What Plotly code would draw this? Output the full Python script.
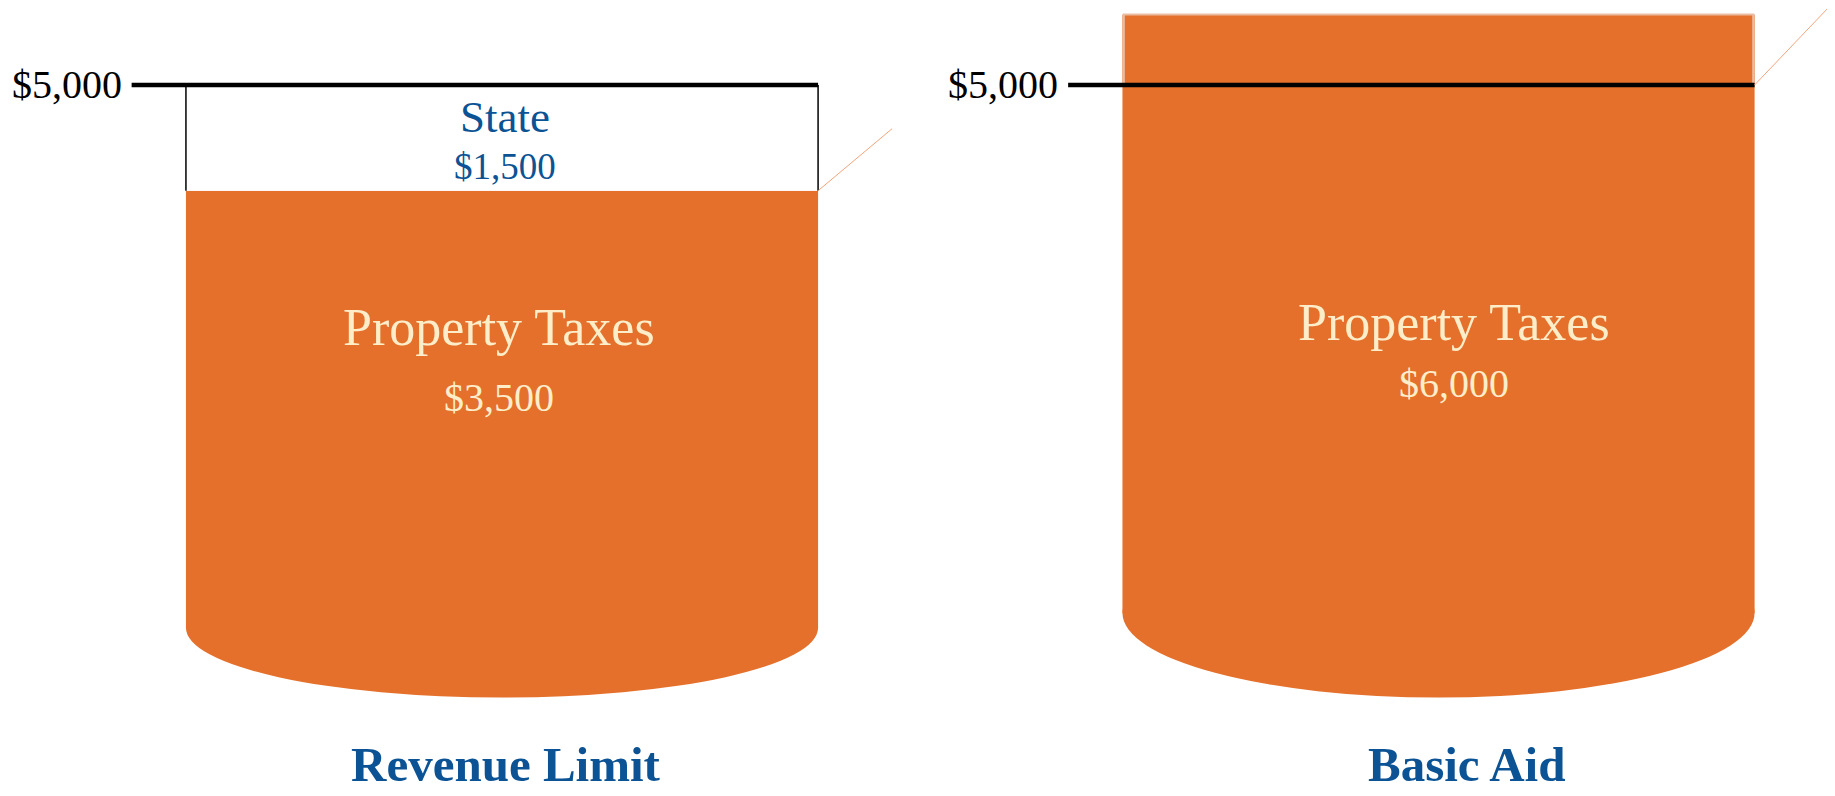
import plotly.graph_objects as go

# ---- data ----
categories = ["Revenue Limit", "Basic Aid"]
property_taxes = [3500, 6000]
state_aid = [1500, 0]
revenue_limit = 5000
pt_label = "Property Taxes"
state_label = "State"

# ---- style ----
ORANGE = "#E4702B"
BLUE = "#0B5394"
CREAM = "#FDEDC9"
EDGE = "#EBBBA2"
FONT = "Liberation Serif"
xs = [0, 1]
bar_w = 0.675
floors = [-2700, -2490]          # where the drum's straight sides end
depths = [990, 1200]             # half-height of the rounded drum bottom
pt_label_y = [1560, 1630]
pt_value_y = [570, 760]
label_shift = [-3, 15]
title_shift = [4, 28]
diag_rise = [880, 1100]

fig = go.Figure()

# cylinder body (property taxes)
fig.add_trace(go.Bar(
    x=xs, y=[p - f for p, f in zip(property_taxes, floors)], base=floors,
    width=bar_w, marker=dict(color=ORANGE, line=dict(width=0)),
    hoverinfo="skip"))

# portion above the revenue limit, with its light edge
for x, p in zip(xs, property_taxes):
    if p > revenue_limit:
        fig.add_trace(go.Bar(x=[x], y=[p - revenue_limit], base=[revenue_limit],
                             width=bar_w - 0.003,
                             marker=dict(color=ORANGE, line=dict(color=EDGE, width=2)),
                             hoverinfo="skip"))

# rounded bottoms
for x, f, d in zip(xs, floors, depths):
    fig.add_shape(type="circle", xref="x", yref="y",
                  x0=x - bar_w / 2, x1=x + bar_w / 2, y0=f - d, y1=f + d,
                  fillcolor=ORANGE, line=dict(width=0), layer="below")

# state segment
for x, p, s in zip(xs, property_taxes, state_aid):
    if s > 0:
        fig.add_trace(go.Bar(x=[x], y=[s], base=[p], width=bar_w,
                             marker=dict(color="white", line=dict(width=0)),
                             hoverinfo="skip"))
        for side in (-1, 1):
            fig.add_trace(go.Scatter(
                x=[x + side * bar_w / 2] * 2, y=[p, p + s], mode="lines",
                line=dict(color="black", width=1.5), hoverinfo="skip"))
        mid = p + s / 2
        fig.add_annotation(x=x, y=mid, xshift=3, yshift=21, text=state_label,
                           showarrow=False, borderpad=0,
                           font=dict(family=FONT, size=45, color=BLUE))
        fig.add_annotation(x=x, y=mid, xshift=3, yshift=-29, text=f"${s:,}",
                           showarrow=False, borderpad=0,
                           font=dict(family=FONT, size=37, color=BLUE))

# decorative thin diagonal strokes at the top right corner
for x, p, s, r in zip(xs, property_taxes, state_aid, diag_rise):
    y0 = p if s > 0 else revenue_limit
    fig.add_shape(type="line", xref="x", yref="y",
                  x0=x + bar_w / 2, y0=y0, x1=x + bar_w / 2 + 0.079, y1=y0 + r,
                  line=dict(color="#F2A57C", width=1))

# $5,000 threshold lines and labels
for x in xs:
    x_start = x - bar_w / 2 - 0.058
    fig.add_trace(go.Scatter(x=[x_start, x + bar_w / 2], y=[revenue_limit] * 2,
                             mode="lines", line=dict(color="black", width=4.5),
                             hoverinfo="skip"))
    fig.add_annotation(x=x_start, y=revenue_limit, xanchor="right", xshift=-8,
                       text=f"${revenue_limit:,}", showarrow=False,
                       font=dict(family=FONT, size=40, color="black"))

# property taxes labels
for x, p, ly, vy, sh in zip(xs, property_taxes, pt_label_y, pt_value_y, label_shift):
    fig.add_annotation(x=x, y=ly, xshift=sh, text=pt_label, showarrow=False,
                       font=dict(family=FONT, size=52, color=CREAM))
    fig.add_annotation(x=x, y=vy, xshift=sh, text=f"${p:,}", showarrow=False,
                       font=dict(family=FONT, size=40, color=CREAM))

# category titles
for x, c, sh in zip(xs, categories, title_shift):
    fig.add_annotation(x=x, xref="x", xshift=sh, y=0.049, yref="paper",
                       yanchor="middle", text=f"<b>{c}</b>", borderpad=0,
                       showarrow=False, font=dict(family=FONT, size=49, color=BLUE))

fig.update_layout(
    width=1835, height=796, margin=dict(l=0, r=0, t=0, b=0),
    paper_bgcolor="white", plot_bgcolor="white", showlegend=False,
    barmode="overlay",
    xaxis=dict(range=[-0.5275, 1.4319], visible=False, fixedrange=True),
    yaxis=dict(range=[-5199, 6092], visible=False, fixedrange=True),
)

fig.write_html("out.html")
